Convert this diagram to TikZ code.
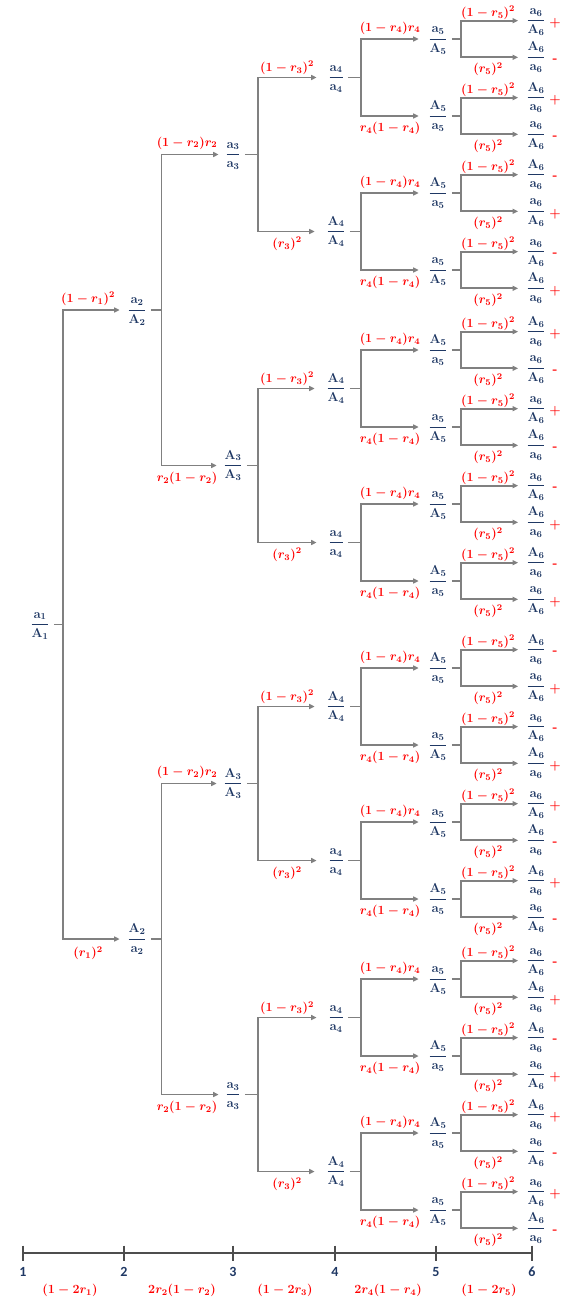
\RequirePackage{fix-cm}
\documentclass[tikz,border=0pt]{standalone}
\usepackage{amsmath}
\usepackage[no-math]{fontspec}
\newfontfamily\calib{Carlito}
\usetikzlibrary{arrows.meta}
\definecolor{nodeblue}{HTML}{1F3864}
\definecolor{labred}{HTML}{FF0000}
\definecolor{linegray}{HTML}{808080}
\definecolor{axisgray}{HTML}{4D4D4D}
\newcommand\aL[1]{\mathbf{a}_{#1}}
\newcommand\aU[1]{\mathbf{A}_{#1}}
\newcommand\fracc[2]{\genfrac{}{}{0.9pt}{0}{#1}{#2}}
\newcommand\sgP{$+$}
\newcommand\sgM{-}
\tikzset{
  ln/.style={draw=linegray, line width=1.7pt},
  arr/.style={ln, -{Triangle[length=5.5pt,width=5pt]}},
  fr/.style={text=nodeblue, inner sep=0pt, anchor=base, yshift=-3.25pt,
    font=\fontsize{13}{15}\selectfont\boldmath},
  lab/.style={text=labred, inner sep=0pt, font=\fontsize{12.5}{15}\selectfont\boldmath},
  sgn/.style={text=labred, inner sep=0pt, font=\fontsize{13}{15}\selectfont\bfseries\boldmath},
  axisln/.style={draw=axisgray, line width=2.6pt},
  tickln/.style={draw=axisgray, line width=2.6pt},
  axnum/.style={text=nodeblue, inner sep=0pt, font=\fontsize{14}{16}\selectfont\calib\bfseries},
  top1/.style={yshift=11pt}, bot1/.style={yshift=-14pt},
  top2/.style={yshift=11.5pt}, bot2/.style={yshift=-12.5pt},
  top3/.style={yshift=9.5pt}, bot3/.style={yshift=-12.5pt},
  top4/.style={yshift=11pt}, bot4/.style={yshift=-12.3pt},
  top5/.style={yshift=8pt}, bot5/.style={yshift=-12pt},
}
\newcommand\TN[5]{\coordinate (#1) at (#2,#3); \node[fr] (#1n) at (#1) {$\fracc{#4}{#5}$};}
\newcommand\SPg[9]{%
  \draw[ln, shorten <=4pt] (#1n.east |- #1) -- (#4,0 |- #1) coordinate (#1v);
  \draw[arr, shorten >=#6] (#1v) |- (#2n.west |- #2);
  \draw[arr, shorten >=#6] (#1v) |- (#3n.west |- #3);
  \node[lab, top#9] (#1t) at (#5,0 |- #2) {#7};
  \node[lab, bot#9] (#1b) at (#5,0 |- #3) {#8};
}
\newcommand\SPa[3]{\SPg{#1}{#2}{#3}{63}{88}{7.5pt}{$(1-r_1)^2$}{$(r_1)^2$}{1}}
\newcommand\SPb[3]{\SPg{#1}{#2}{#3}{161.5}{187}{6.5pt}{$(1-r_2)r_2$}{$r_2(1-r_2)$}{2}}
\newcommand\SPc[3]{\SPg{#1}{#2}{#3}{258}{287}{11.5pt}{$(1-r_3)^2$}{$(r_3)^2$}{3}}
\newcommand\SPd[3]{\SPg{#1}{#2}{#3}{361}{390}{9.5pt}{$(1-r_4)r_4$}{$r_4(1-r_4)$}{4}}
\newcommand\SPe[3]{\SPg{#1}{#2}{#3}{461}{488}{8pt}{$(1-r_5)^2$}{$(r_5)^2$}{5}}
\newcommand\FV[5]{%
  \ifnum#3=1
    \TN{#1}{438}{#2}{\aL5}{\aU5}
    \TN{#1a}{536}{#2-18.3}{\aL6}{\aU6}
    \TN{#1b}{536}{#2+18.3}{\aU6}{\aL6}
  \else
    \TN{#1}{438}{#2}{\aU5}{\aL5}
    \TN{#1a}{536}{#2-18.3}{\aU6}{\aL6}
    \TN{#1b}{536}{#2+18.3}{\aL6}{\aU6}
  \fi
  \node[sgn] (#1as) at (555,#2-18.3+3) {#4};
  \node[sgn] (#1bs) at (555,#2+18.3+3) {#5};
  \SPe{#1}{#1a}{#1b}
}
\begin{document}
\begin{tikzpicture}[x=1pt,y=-1pt]
\useasboundingbox (0,0) rectangle (582,1308);
% level 1-4 nodes
\TN{R}{40}{624.5}{\aL1}{\aU1}
\TN{A}{137}{310}{\aL2}{\aU2}
\TN{B}{137}{939}{\aU2}{\aL2}
\TN{AA}{233}{154.5}{\aL3}{\aL3}
\TN{AB}{233}{465.5}{\aU3}{\aU3}
\TN{BA}{233}{783.5}{\aU3}{\aU3}
\TN{BB}{233}{1094.5}{\aL3}{\aL3}
\TN{AAA}{336}{77.5}{\aL4}{\aL4}
\TN{AAB}{336}{231.5}{\aU4}{\aU4}
\TN{ABA}{336}{388.5}{\aU4}{\aU4}
\TN{ABB}{336}{542.5}{\aL4}{\aL4}
\TN{BAA}{336}{706.5}{\aU4}{\aU4}
\TN{BAB}{336}{860.5}{\aL4}{\aL4}
\TN{BBA}{336}{1017.5}{\aL4}{\aL4}
\TN{BBB}{336}{1171.5}{\aU4}{\aU4}
% level 5 nodes with leaves
\FV{p1}{39}{1}{\sgP}{\sgM}
\FV{p2}{116}{0}{\sgP}{\sgM}
\FV{p3}{193}{0}{\sgM}{\sgP}
\FV{p4}{270}{1}{\sgM}{\sgP}
\FV{p5}{350}{0}{\sgP}{\sgM}
\FV{p6}{427}{1}{\sgP}{\sgM}
\FV{p7}{504}{1}{\sgM}{\sgP}
\FV{p8}{581}{0}{\sgM}{\sgP}
\FV{p9}{668}{0}{\sgM}{\sgP}
\FV{p10}{745}{1}{\sgM}{\sgP}
\FV{p11}{822}{1}{\sgP}{\sgM}
\FV{p12}{899}{0}{\sgP}{\sgM}
\FV{p13}{979}{1}{\sgM}{\sgP}
\FV{p14}{1056}{0}{\sgM}{\sgP}
\FV{p15}{1133}{0}{\sgP}{\sgM}
\FV{p16}{1210}{1}{\sgP}{\sgM}
% splits
\SPd{AAA}{p1}{p2}
\SPd{AAB}{p3}{p4}
\SPd{ABA}{p5}{p6}
\SPd{ABB}{p7}{p8}
\SPd{BAA}{p9}{p10}
\SPd{BAB}{p11}{p12}
\SPd{BBA}{p13}{p14}
\SPd{BBB}{p15}{p16}
\SPc{AA}{AAA}{AAB}
\SPc{AB}{ABA}{ABB}
\SPc{BA}{BAA}{BAB}
\SPc{BB}{BBA}{BBB}
\SPb{A}{AA}{AB}
\SPb{B}{BA}{BB}
\SPa{R}{A}{B}
% axis
\coordinate (t1) at (23,1253);
\coordinate (t2) at (124,1253);
\coordinate (t3) at (233,1253);
\coordinate (t4) at (335,1253);
\coordinate (t5) at (436,1253);
\coordinate (t6) at (532,1253);
\draw[axisln] (t1) -- (t6);
\foreach \i in {1,...,6}{
  \draw[tickln] (t\i) ++(0,-7.5) -- ++(0,15);
  \node[axnum] (n\i) at (t\i |- 0,1272) {\i};
}
\node[lab] (s1) at (70,1290) {$(1-2r_1)$};
\node[lab] (s2) at (182,1290) {$2r_2(1-r_2)$};
\node[lab] (s3) at (285,1290) {$(1-2r_3)$};
\node[lab] (s4) at (388,1290) {$2r_4(1-r_4)$};
\node[lab] (s5) at (489,1290) {$(1-2r_5)$};
\end{tikzpicture}
\end{document}
